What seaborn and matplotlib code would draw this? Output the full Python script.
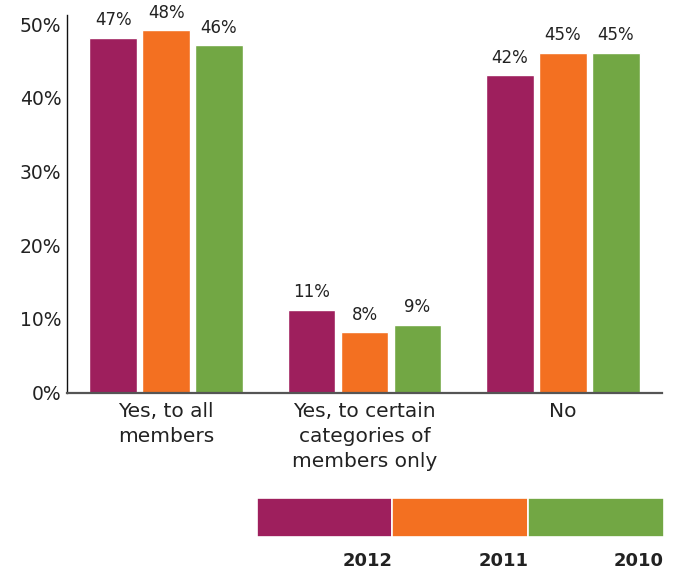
import matplotlib
matplotlib.use("Agg")
import matplotlib.pyplot as plt
import seaborn as sns
import pandas as pd
import numpy as np

categories = ["Yes, to all\nmembers", "Yes, to certain\ncategories of\nmembers only", "No"]
years = ["2012", "2011", "2010"]
values_2012 = [47, 11, 42]
values_2011 = [48, 8, 45]
values_2010 = [46, 9, 45]
colors = ["#9E1F5D", "#F37021", "#72A744"]
tick_values = [0, 10, 20, 30, 40, 50]
tick_labels = ["0%", "10%", "20%", "30%", "40%", "50%"]

rows = []
for yr, vals in zip(years, [values_2012, values_2011, values_2010]):
    for c, v in zip(categories, vals):
        rows.append({"category": c, "year": yr, "value": v})
df = pd.DataFrame(rows)

sns.set_style("white")
plt.rcParams["font.family"] = ["DejaVu Sans"]
text_color = "#222222"

fig = plt.figure(figsize=(6.76, 5.70), dpi=100)
ax = fig.add_axes([67/676, (570-392.7)/570, (662-67)/676, (392.7-15)/570])

sns.barplot(data=df, x="category", y="value", hue="year", order=categories,
            hue_order=years, palette=colors, saturation=1, width=0.8, gap=0.1,
            legend=False, ax=ax, errorbar=None)

for cont in ax.containers:
    ax.bar_label(cont, labels=[f"{v:.0f}%" for v in cont.datavalues],
                 padding=6, fontsize=12, color=text_color)

ax.set_xlim(-0.5, 2.5)
ax.set_ylim(0, 50)
ax.set_yticks([t * 0.976 for t in tick_values])
ax.set_yticklabels(tick_labels)
ax.tick_params(axis="y", length=0, pad=4, labelsize=13.5, labelcolor=text_color)
ax.tick_params(axis="x", length=0, pad=7, labelsize=14.5, labelcolor=text_color)
ax.set_xlabel("")
ax.set_ylabel("")
for s in ["top", "right"]:
    ax.spines[s].set_visible(False)
ax.spines["left"].set_color("#111111")
ax.spines["left"].set_linewidth(1.0)
ax.spines["bottom"].set_color("#555555")
ax.spines["bottom"].set_linewidth(1.6)
for lbl in ax.get_xticklabels():
    lbl.set_linespacing(1.4)

# legend as colour blocks
lax = fig.add_axes([256.7/676, (570-536.7)/570, (664-256.7)/676, 39/570])
lax.bar(range(len(years)), [1]*len(years), width=1, color=colors,
        edgecolor="white", linewidth=1.2)
lax.set_xlim(-0.5, len(years) - 0.5)
lax.set_ylim(0, 1)
lax.axis("off")
for i, yr in enumerate(years):
    lax.text(i + 0.5, -0.38, yr, ha="right", va="top", fontsize=13,
             fontweight="bold", color=text_color, clip_on=False)

fig.savefig("out.png", dpi=100)
